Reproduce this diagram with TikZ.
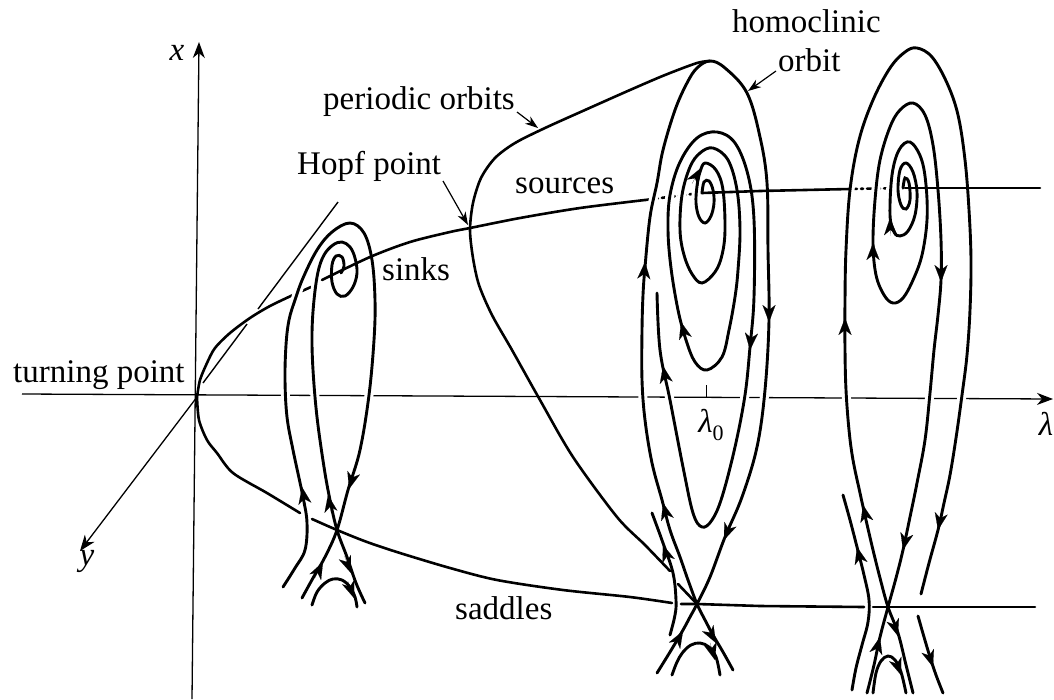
\documentclass[tikz,border=0pt]{standalone}
\usepackage{fontspec}
\setmainfont{Liberation Serif}
\usetikzlibrary{arrows.meta}
\newcommand\ah[3]{\draw[flowtip] (#1,#2) ++({-(#3)-180}:18) -- (#1,#2);}
\newcommand\myflows{%
 % left sink structure
 \draw[fl] plot[smooth,tension=0.6] coordinates {(283,587) (295,568) (305,550) (307,523) (303,497) (293,450) (287,417) (285,380) (286,345) (289,320) (295,300) (303,278) (317,250) (332,232) (350,223) (364,233) (372,260) (375,300) (374,340) (369,395) (360,450) (348,490) (337,530) (325,557) (313,578) (302,598)};
 \draw[fl] plot[smooth,tension=0.6] coordinates {(365,603) (356,583) (347,557) (337,530) (330,500) (324,467) (317,417) (313,370) (312,333) (314,300) (318,272) (324,255) (333,245) (342,242) (350,247) (355,258) (357,273) (353,287) (345,296) (337,294) (332,282) (332,265) (336,256) (342,257) (344,266) (341,273)};
 \draw[fl] plot[smooth,tension=0.6] coordinates {(312,605) (317,592) (325,583) (333,579) (342,580) (350,587) (355,597) (357,607)};
 % middle: homoclinic orbit
 \draw[fl] plot[smooth,tension=0.6] coordinates {(733,670) (723,652) (713,635) (705,620) (697,604) (688,580) (680,557) (670,530) (662,500) (652,463) (645,420) (642,380) (642,330) (643,295) (645,267) (650,217) (657,183) (663,150) (675,110) (687,83) (697,68) (710,61) (725,68) (747,93) (760,137) (767,183) (768,250) (769,320) (765,390) (757,447) (742,497) (725,537) (710,577) (697,604) (690,617) (683,630) (670,652) (657,673)};
 \draw[fl] plot[smooth,tension=0.6] coordinates {(652,513) (663,543) (673,573) (676,600) (675,615) (670,635)};
 \draw[fl] plot[smooth,tension=0.6] coordinates {(672,675) (677,662) (683,652) (691,645) (700,643) (709,647) (716,657) (720,675)};
 \draw[fl] plot[smooth,tension=0.6] coordinates {(702,193) (704,182) (709,181) (713,190) (714,203) (711,216) (705,223) (699,217) (696,203) (697,186) (700,172) (705,163) (716,170) (723,190) (725,230) (722,255) (715,272) (702,283) (692,274) (684,255) (680,230) (682,195) (690,167) (700,153) (713,148) (728,160) (737,190) (740,230) (738,270) (735,297) (729,330) (722,357) (707,370) (695,362) (686,340) (678,310) (671,268) (668,230) (670,195) (680,162) (697,138) (717,132) (735,143) (748,175) (754,220) (754,297) (750,347) (745,395) (735,447) (722,497) (712,520) (702,527) (693,513) (683,467) (670,400) (660,350) (657,293)};
 % right structure
 \draw[fl] plot[smooth,tension=0.6] coordinates {(913,693) (906,665) (898,633) (888,607) (880,578) (873,550) (866,520) (860,493) (853,460) (849,430) (846,390) (845,350) (845,300) (846,250) (850,190) (859,140) (873,100) (890,68) (905,52) (917,48) (932,57) (947,83) (958,115) (965,160) (969,210) (971,260) (970,310) (967,355) (962,395) (956,438) (950,475) (944,503) (938,530) (929,563) (921,594)};
 \draw[fl] plot[smooth,tension=0.6] coordinates {(918,616) (924,637) (930,657) (936,675) (943,693)};
 \draw[fl] plot[smooth,tension=0.6] coordinates {(867,693) (874,665) (880,637) (888,607) (896,578) (903,550) (910,517) (917,483) (925,440) (930,393) (934,350) (938,315) (941,280) (941,240) (938,190) (933,145) (925,115) (913,103) (900,110) (890,127) (880,160) (875,200) (873,243) (876,275) (884,295) (893,303) (903,298) (913,280) (922,255) (927,220) (926,185) (921,158) (910,142) (899,150) (892,175) (890,215) (894,232) (900,236) (908,231) (915,215) (917,192) (913,172) (906,163) (900,170) (898,190) (901,205) (906,209) (910,200) (909,183) (905,178) (903,188)};
 \draw[fl] plot[smooth,tension=0.6] coordinates {(843,495) (850,520) (857,547) (864,575) (869,600) (868,622) (862,645) (856,668) (852,690)};
 \draw[fl] plot[smooth,tension=0.6] coordinates {(873,693) (876,673) (881,661) (888,656) (895,660) (901,672) (906,693)};
}
\begin{document}
\begin{tikzpicture}[x=1pt,y=-1pt,
  lbl/.style={font=\fontsize{33}{38}\selectfont, inner sep=0pt},
  axis/.style={line width=1.3pt},
  branch/.style={line width=2.6pt, line cap=round},
  fl/.style={line width=2.9pt},
  flowtip/.style={line width=0.1pt, -{Stealth[length=17pt,width=13pt,inset=5pt]}},
  ptr/.style={line width=1.2pt, -{Stealth[length=13pt,width=9pt,inset=4pt]}},
  axtip/.style={-{Stealth[length=16pt,width=12pt,inset=5pt]}}
]
\useasboundingbox[fill=white] (0,0) rectangle (1054,699);
% axes
\coordinate (O) at (197,397);
\coordinate (xtop) at (199,42);
\coordinate (xbot) at (192,699);
\coordinate (lleft) at (22,394);
\coordinate (lright) at (1053,399);
\coordinate (yend) at (80,551);
\draw[axis,axtip] (xbot) -- (xtop);
\draw[axis,axtip] (lleft) -- (lright);
\draw[axis,axtip] (O) -- (yend);
% thin tangent line
\draw[line width=1.4pt] (203,383) -- (247,324);
\draw[line width=1.4pt] (258,309) -- (338,202);
% upper branch, back parts
\draw[branch] plot[smooth] coordinates {(197,397) (200,380) (207,363) (215,348) (230,333) (250,318) (270,306) (293,295)};
\draw[branch] (302,291) -- (311,287);
\draw[branch, dash pattern=on 7pt off 4pt on 2pt off 4pt] (645,200) -- (700,193);
\draw[branch, dash pattern=on 7pt off 4pt on 2pt off 4pt] (850,189) -- (903,188);
% flows: halos then lines
\begin{scope}[fl/.style={white, line width=9pt}]
\myflows
\end{scope}
\begin{scope}[fl/.style={black, line width=2.9pt, line cap=round}]
\myflows
\end{scope}
% upper branch, front parts
\draw[branch] plot[smooth] coordinates {(322,280) (370,257) (410,242) (450,232) (470,228) (520,218) (580,208) (645,200)};
\draw[branch] (702,193) -- (760,191) -- (850,189);
\draw[branch] (905,188) -- (1040,188);
% lower branch (saddles)
\draw[branch] plot[smooth] coordinates {(197,397) (199,420) (207,440) (217,453) (233,473) (267,493) (300,513)};
\draw[branch] plot[smooth] coordinates {(312,519) (337,530) (367,542) (400,553) (450,568) (497,580) (563,590) (630,597) (672,603)};
\draw[branch] (681,604) -- (697,604) -- (760,606) -- (864,607);
\draw[branch] (873,607) -- (1035,607);
% periodic orbit branch
\draw[branch] plot[smooth] coordinates {(710,61) (697,63) (665,75) (630,90) (585,110) (545,128) (515,143) (495,158) (481,178) (473,203) (470,230) (473,258) (479,285) (492,315) (512,350) (540,400) (573,457) (617,517) (645,545) (670,571)};
\draw[branch] (678,584) -- (697,604);
% arrowheads on flows
\ah{302}{487}{100} \ah{349}{489}{254} \ah{323}{562}{63} \ah{328}{495}{100} \ah{351}{573}{-69} \ah{354}{598}{-70}
\ah{645}{262}{86} \ah{663}{503}{105} \ah{769}{322}{-90} \ah{724}{540}{248} \ah{716}{643}{-61} \ah{683}{631}{60}
\ah{663}{545}{109} \ah{715}{660}{-74} \ah{701}{168}{60} \ah{681}{322}{105} \ah{663}{366}{101} \ah{750}{350}{-95}
\ah{863}{505}{103} \ah{845}{318}{90} \ah{938}{530}{-101} \ah{933}{667}{-72} \ah{898}{636}{-72} \ah{880}{637}{76}
\ah{903}{550}{-103} \ah{941}{282}{-90} \ah{873}{243}{90} \ah{890}{218}{92} \ah{857}{547}{104} \ah{901}{675}{-70}
% tick at lambda_0
\draw[line width=1pt] (706,385) -- (706,397);
% labels
\node[lbl, anchor=base west] (tp) at (13,382) {turning point};
\node[lbl, anchor=base west] (po) at (323,109) {periodic orbits};
\node[lbl, anchor=base west] (hp) at (297,174) {Hopf point};
\node[lbl, anchor=base west] (src) at (515,193) {sources};
\node[lbl, anchor=base west] (snk) at (382,280) {sinks};
\node[lbl, anchor=base west] (sad) at (455,619) {saddles};
\node[lbl, anchor=base west] (hc) at (732,32) {homoclinic};
\node[lbl, anchor=base west] (orb) at (778,71) {orbit};
\node[lbl] (xl) at (177,53) {\itshape x};
\node[lbl] (yl) at (87,561) {\itshape y};
\node[lbl] (ll) at (1046,424) {\itshape λ};
\node[lbl] (l0) at (711,425) {\itshape λ\raisebox{-0.22em}{\upshape\fontsize{22}{22}\selectfont 0}};
% pointers
\coordinate (poA) at (517,112); \coordinate (poB) at (538,128);
\coordinate (hpA) at (443,181); \coordinate (hpB) at (468,225);
\coordinate (obA) at (776,71); \coordinate (obB) at (748,91);
\draw[ptr] (poA) -- (poB);
\draw[ptr] (hpA) -- (hpB);
\draw[ptr] (obA) -- (obB);
\end{tikzpicture}
\end{document}
